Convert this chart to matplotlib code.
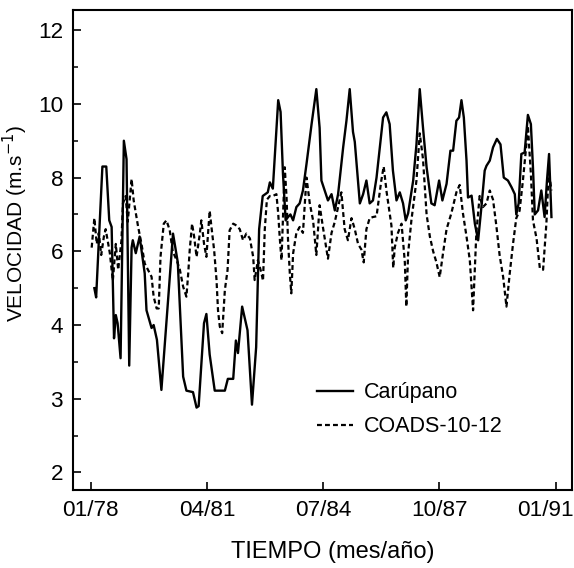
import numpy as np
import matplotlib
matplotlib.use("Agg")
import matplotlib.pyplot as plt
import matplotlib.transforms as mtransforms

plt.rcParams['font.family'] = ['Liberation Sans', 'DejaVu Sans']

# months since 01/78 and wind speed (m/s)
caru_t = [1.2, 1.8, 3.9, 5.2, 6.2, 7.0, 7.8, 8.4, 9.0, 10.0, 11.1, 12.0, 12.9, 13.7,
          14.1, 15.1, 16.4, 18.1, 18.7, 20.4, 21.1, 22.2, 23.7, 27.6, 29.2, 31.0,
          32.1, 34.3, 35.5, 36.2, 38.0, 38.8, 39.9, 41.6, 45.0, 46.0, 47.8, 48.7,
          49.4, 50.8, 52.6, 54.1, 55.5, 56.5, 57.7, 59.4, 60.1, 61.1, 62.9, 63.7,
          64.5, 65.4, 66.2, 67.0, 67.9, 69.0, 70.1, 71.2, 72.4, 74.1, 75.7, 76.8,
          77.4, 78.5, 79.6, 80.8, 81.9, 83.0, 84.7, 85.8, 86.9, 88.0, 88.6, 90.3,
          91.4, 92.5, 93.6, 94.7, 95.9, 97.0, 98.1, 99.2, 100.3, 101.4, 102.6,
          103.7, 104.8, 105.7, 106.5, 108.2, 109.3, 110.4, 111.5, 112.7, 114.3,
          115.4, 116.9, 118.0, 119.4, 120.7, 121.6, 122.7, 123.6, 124.4, 125.2,
          126.1, 126.6, 127.8, 128.9, 130.0, 131.1, 132.2, 132.8, 133.9, 135.0,
          136.3, 137.5, 138.6, 140.0, 141.2, 142.3, 142.8, 143.6, 144.5, 145.6,
          146.7, 147.7, 148.4, 149.0, 150.1, 151.2, 152.3, 153.1, 153.8, 154.6]
caru_v = [5.0, 4.75, 8.3, 8.3, 6.84, 6.66, 3.82, 4.27, 4.05, 3.55, 9.0, 8.5, 3.45, 6.1,
          6.3, 5.95, 6.4, 5.4, 4.4, 3.96, 4.0, 3.8, 3.12, 6.48, 5.7, 3.3,
          3.11, 3.09, 2.88, 2.9, 4.05, 4.3, 3.6, 3.11, 3.11, 3.27, 3.27, 3.79,
          3.62, 4.5, 3.93, 2.92, 3.7, 6.6, 7.5, 7.6, 7.87, 7.7, 10.1, 9.78,
          8.1, 6.84, 6.93, 7.0, 6.84, 7.2, 7.3, 7.65, 8.37, 9.45, 10.4, 9.35,
          7.92, 7.65, 7.38, 7.55, 7.11, 7.55, 8.82, 9.54, 10.4, 9.24, 8.97, 7.3,
          7.55, 7.92, 7.3, 7.38, 8.0, 8.82, 9.63, 9.77, 9.45, 8.19, 7.38,
          7.6, 7.3, 6.84, 7.03, 7.92, 8.9, 10.4, 9.35, 8.28, 7.3,
          7.25, 7.92, 7.38, 7.83, 8.73, 8.73, 9.54, 9.63, 10.1, 9.63,
          8.46, 7.46, 7.51, 6.75, 6.3, 7.2, 8.19, 8.32, 8.46, 8.82,
          9.05, 8.9, 8.0, 7.92, 7.74, 7.55, 7.0, 7.3, 8.64, 8.68,
          9.7, 9.45, 8.28, 7.0, 7.11, 7.65, 6.93, 7.92, 8.64, 6.93]

coads_t = [0.3, 1.2, 2.0, 2.7, 3.5, 4.4, 5.0, 6.4, 7.4, 8.4, 9.2, 10.3, 10.8, 11.7,
           12.4, 13.7, 14.4, 15.9, 17.0, 18.1, 19.2, 20.4, 21.1, 22.1, 22.8, 23.4,
           24.5, 25.4, 26.5, 27.5, 28.8, 29.9, 31.0, 32.1, 32.7, 33.2, 34.0, 34.7,
           35.5, 36.6, 37.1, 38.0, 38.8, 39.9, 40.5, 41.4, 42.2, 42.7, 43.3, 44.1,
           45.0, 45.9, 46.6, 47.8, 48.9, 50.0, 51.1, 52.2, 53.4, 54.5, 55.0, 56.1,
           57.3, 57.8, 58.4, 59.1, 60.1, 61.1, 62.3, 62.9, 63.4, 64.0, 65.1, 65.7,
           66.2, 66.8, 67.3, 67.9, 69.0, 70.1, 71.2, 72.4, 73.5, 74.6, 75.7, 76.8,
           77.9, 79.6, 80.8, 81.9, 83.0, 84.1, 85.2, 86.3, 87.5, 88.6, 89.7, 90.8,
           91.6, 92.5, 93.6, 94.7, 95.9, 97.5, 98.3, 99.3, 100.9, 101.5, 102.0,
           103.1, 104.3, 105.4, 105.9, 106.5, 107.6, 109.3, 110.4, 111.5, 112.7,
           113.8, 114.9, 116.0, 117.1, 118.2, 119.4, 121.0, 122.7, 123.8, 124.9,
           126.1, 127.2, 128.3, 129.4, 130.5, 131.6, 132.8, 133.9, 135.0, 136.1,
           137.2, 138.4, 139.5, 140.6, 141.7, 142.8, 143.9, 145.0, 146.1, 146.7,
           147.7, 148.4, 149.6, 150.7, 151.8, 152.9, 153.7, 154.6]
coads_v = [6.1, 6.9, 6.2, 6.5, 5.9, 6.4, 6.6, 5.95, 5.2, 6.2, 5.5, 6.3, 7.3, 7.5,
           6.8, 7.96, 7.38, 6.66, 6.21, 5.67, 5.5, 5.31, 4.77, 4.45, 4.45, 5.85,
           6.75, 6.84, 6.57, 6.0, 5.76, 5.5, 5.04, 4.77, 5.4, 6.03, 6.75, 6.39,
           5.85, 6.48, 6.84, 6.21, 5.85, 7.1, 6.66, 6.03, 5.22, 4.4, 3.98, 3.89,
           4.95, 5.49, 6.57, 6.75, 6.7, 6.6, 6.3, 6.48, 6.35, 5.85, 5.22, 5.76,
           5.4, 5.2, 6.6, 7.4, 7.5, 7.5, 7.55, 7.03, 6.39, 5.76, 8.28, 7.47,
           6.3, 5.4, 4.86, 5.94, 6.5, 6.66, 6.5, 8.0, 7.3, 6.84, 5.9, 7.25,
           6.66, 5.8, 6.5, 6.8, 7.2, 7.6, 6.6, 6.3, 6.9, 6.6, 6.2, 6.05,
           5.7, 6.6, 6.9, 6.93, 6.95, 7.92, 8.3, 7.6, 6.7, 5.55, 6.1,
           6.5, 6.75, 5.7, 4.5, 5.94, 6.84, 7.92, 9.2, 8.5, 7.0,
           6.4, 6.0, 5.7, 5.3, 5.94, 6.6, 7.03, 7.6, 7.8, 7.03,
           6.4, 5.76, 4.4, 6.5, 7.5, 7.2, 7.3, 7.65, 7.4, 6.7,
           5.9, 5.3, 4.5, 5.4, 6.2, 6.9, 7.1, 7.9, 8.82, 9.4,
           8.1, 6.84, 6.35, 5.55, 5.5, 6.75, 8.2, 7.65]

xtick_pos = [0, 39, 78, 117, 156]
xtick_labels = ['01/78', '04/81', '07/84', '10/87', '01/91']
ytick_vals = [2, 3, 4, 6, 8, 10, 12]
yminor_vals = [2.5, 3.5, 5, 7, 9, 11]

# the y axis is evenly spaced between the labelled values
lev = [0, 2, 3, 4, 6, 8, 10, 12, 20]
pos = [-2, 0, 1, 2, 3, 4, 5, 6, 10]
def fwd(v):
    return np.interp(v, lev, pos)
def inv(u):
    return np.interp(u, pos, lev)

fig = plt.figure(figsize=(5.74, 5.68), dpi=100)
ax = fig.add_axes([0.127, 0.137, 0.869, 0.845])
ax.set_yscale('function', functions=(fwd, inv))

ax.plot(caru_t, caru_v, color='black', lw=1.7, label='Carúpano')
ax.plot(coads_t, coads_v, color='black', lw=1.6, dashes=(2.2, 1.4),
        label='COADS-10-12')

ax.set_xlim(-6, 161.4)
ax.set_ylim(1.76, 12.54)
ax.set_xticks(xtick_pos)
ax.set_xticklabels(xtick_labels)
ax.set_yticks(ytick_vals)
ax.set_yticklabels([str(v) for v in ytick_vals])
ax.set_yticks(yminor_vals, minor=True)
ax.tick_params(axis='both', which='major', direction='in', length=6, width=1.2,
               labelsize=16.2, pad=7)
ax.tick_params(axis='y', which='minor', direction='in', length=3.5, width=1.1)
ax.tick_params(axis='x', which='minor', length=0)
for s in ax.spines.values():
    s.set_linewidth(1.5)

# last date label sits a little left of its tick, as in the original
last = ax.xaxis.get_major_ticks()[-1].label1
last.set_transform(last.get_transform() +
                   mtransforms.ScaledTranslation(-0.10, 0, fig.dpi_scale_trans))

ax.set_xlabel('TIEMPO (mes/año)', fontsize=17)
ax.xaxis.set_label_coords(0.52, -0.105)
ax.set_ylabel('VELOCIDAD (m.s$^{-1}$)', fontsize=15)
ax.yaxis.set_label_coords(-0.086, 0.555)

ax.legend(loc='upper left', bbox_to_anchor=(0.49, 0.225), frameon=False,
          fontsize=15.5, handlelength=1.65, handletextpad=0.5, labelspacing=0.6,
          borderpad=0, borderaxespad=0)

fig.savefig('out.png', dpi=100)
